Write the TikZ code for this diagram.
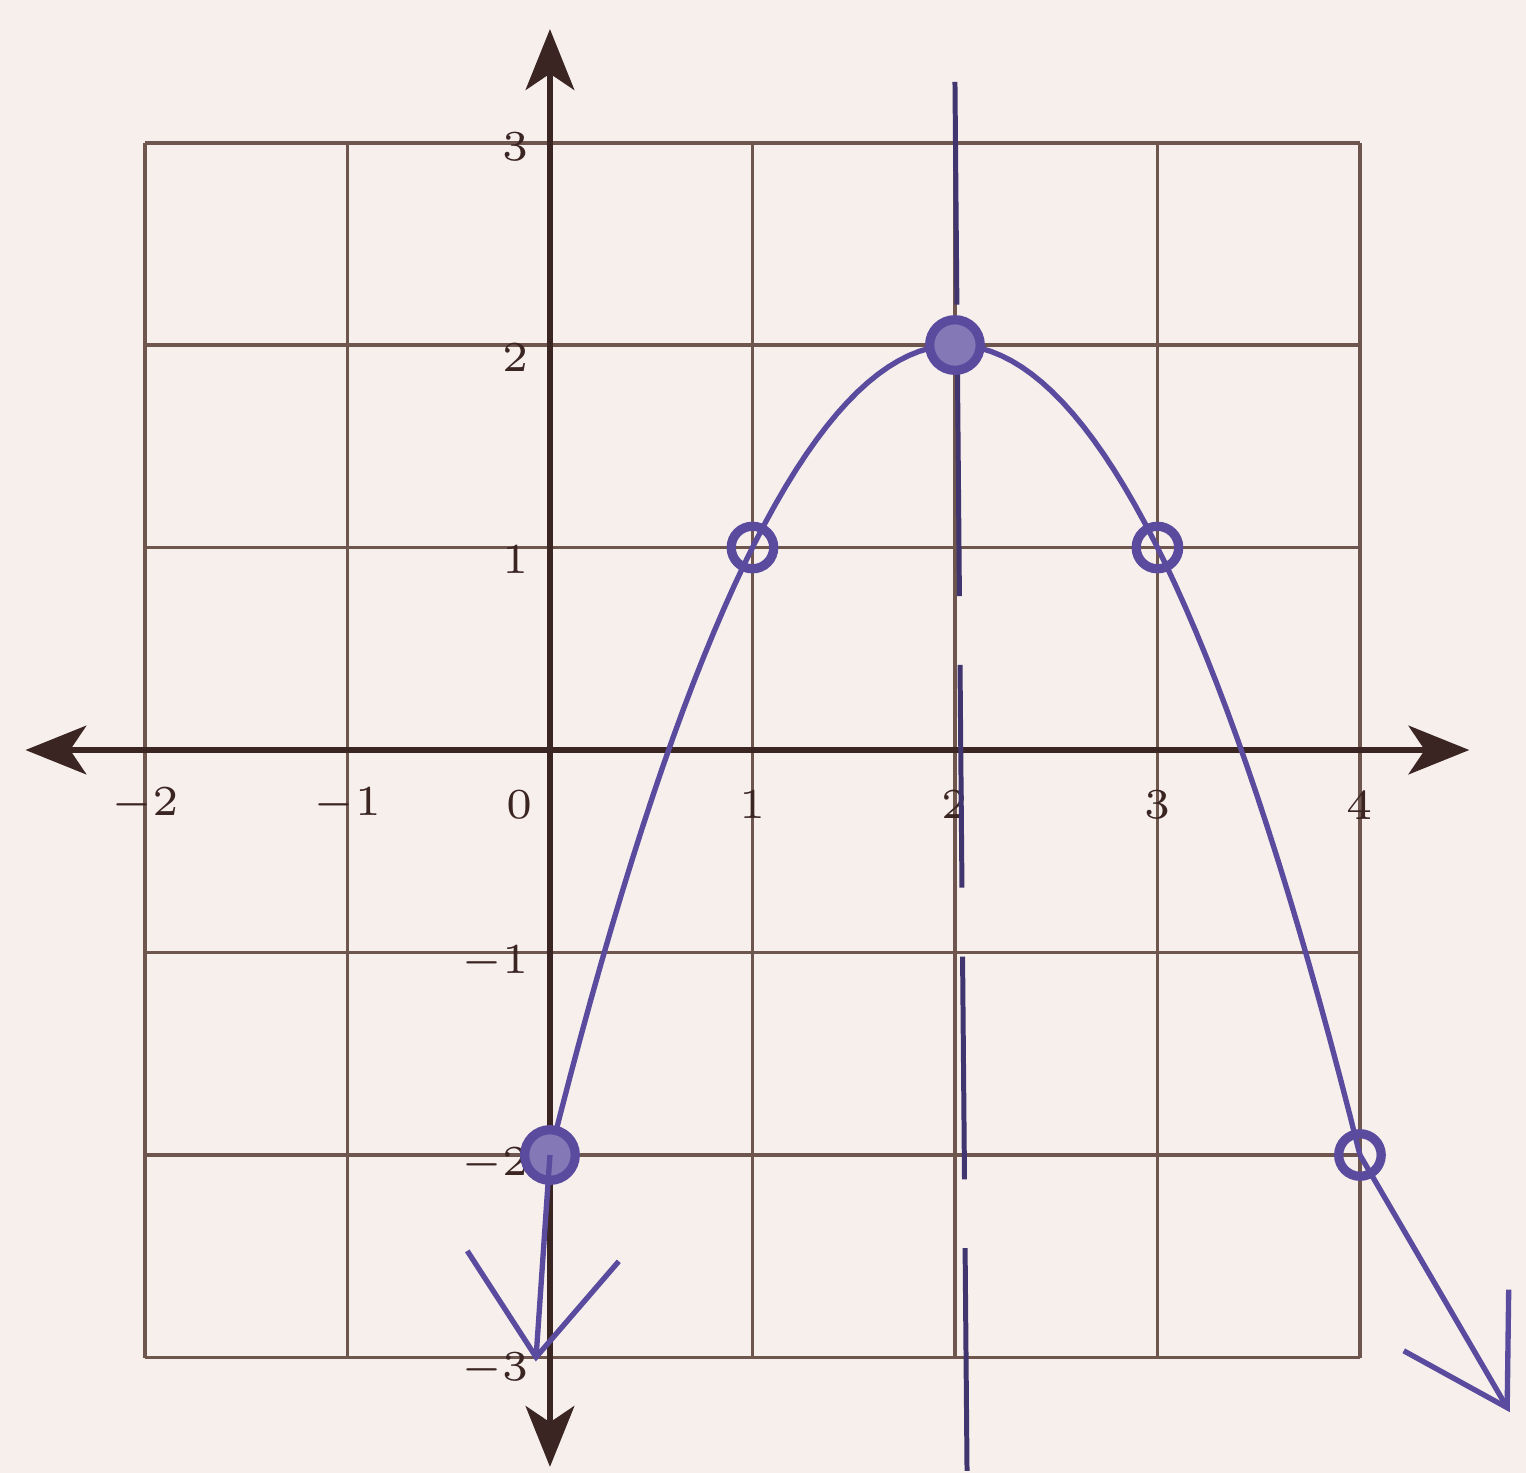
\documentclass[tikz,border=0pt]{standalone}
\usepackage{tikz}
\usetikzlibrary{arrows.meta, calc}
\definecolor{cpaper}{HTML}{F7EFEC}
\definecolor{cgrid}{HTML}{6E564E}
\definecolor{caxis}{HTML}{3B2522}
\definecolor{cpen}{HTML}{5B4B9E}

\begin{document}
\begin{tikzpicture}[
    gridline/.style={cgrid, line width=0.55pt},
    axisline/.style={caxis, line width=0.85pt, {Stealth[length=3mm, width=2.4mm, inset=0.8mm]}-{Stealth[length=3mm, width=2.4mm, inset=0.8mm]}},
    ticklab/.style={caxis, inner sep=0pt, font=\fontsize{6}{7}\selectfont},
    curve/.style={cpen, line width=0.75pt},
    symline/.style={cpen!70!black, line width=0.7pt, dash pattern=on 1.1cm off 0.34cm},
    dot/.style={draw=cpen, circle, line width=1.3pt, minimum size=0.21cm, inner sep=0pt},
    bigdot/.style={dot, fill=cpen!75, minimum size=0.25cm}
]
\useasboundingbox[fill=cpaper] (-2.716,-3.57) rectangle (4.82,3.704);
% grid and axes
\draw[gridline] (-2,-3) grid (4,3);
\coordinate (xmin) at (-2.59,0);
\coordinate (xmax) at (4.54,0);
\coordinate (ymin) at (0,-3.54);
\coordinate (ymax) at (0,3.56);
\draw[axisline] (xmin) -- (xmax);
\draw[axisline] (ymin) -- (ymax);
\node[ticklab] (xl1) at (-2,-0.27) {$-2$};
\node[ticklab] (xl2) at (-1,-0.27) {$-1$};
\node[ticklab] (xl3) at (-0.15,-0.27) {0};
\node[ticklab] (xl4) at (1,-0.27) {1};
\node[ticklab] (xl5) at (2,-0.27) {2};
\node[ticklab] (xl6) at (3,-0.27) {3};
\node[ticklab] (xl7) at (4,-0.27) {4};
\node[ticklab, anchor=east] (yl1) at (-0.1,2.98) {3};
\node[ticklab, anchor=east] (yl2) at (-0.1,1.94) {2};
\node[ticklab, anchor=east] (yl3) at (-0.1,0.94) {1};
\node[ticklab, anchor=east] (yl4) at (-0.1,-1.05) {$-1$};
\node[ticklab, anchor=east] (yl5) at (-0.1,-2.05) {$-2$};
\node[ticklab, anchor=east] (yl6) at (-0.1,-3.06) {$-3$};
% axis of symmetry
\coordinate (stop) at (2,3.3);
\coordinate (sbot) at (2.06,-3.6);
\draw[symline] (stop) -- (sbot);
% parabola
\draw[curve] plot[domain=0:4, samples=80] (\x, {2-(\x-2)^2});
\coordinate (ltip) at (-0.07,-3.02);
\coordinate (rtip) at (4.74,-3.27);
\node[bigdot] (p0) at (0,-2) {};
\node[dot] (p1) at (1,1) {};
\node[bigdot] (p2) at (2,2) {};
\node[dot] (p3) at (3,1) {};
\node[dot] (p4) at (4,-2) {};
\draw[curve, -{Straight Barb[length=5mm, width=7.5mm]}] (p0.center) -- (ltip);
\draw[curve, -{Straight Barb[length=5mm, width=6mm]}] (p4.center) -- (rtip);
\end{tikzpicture}
\end{document}
